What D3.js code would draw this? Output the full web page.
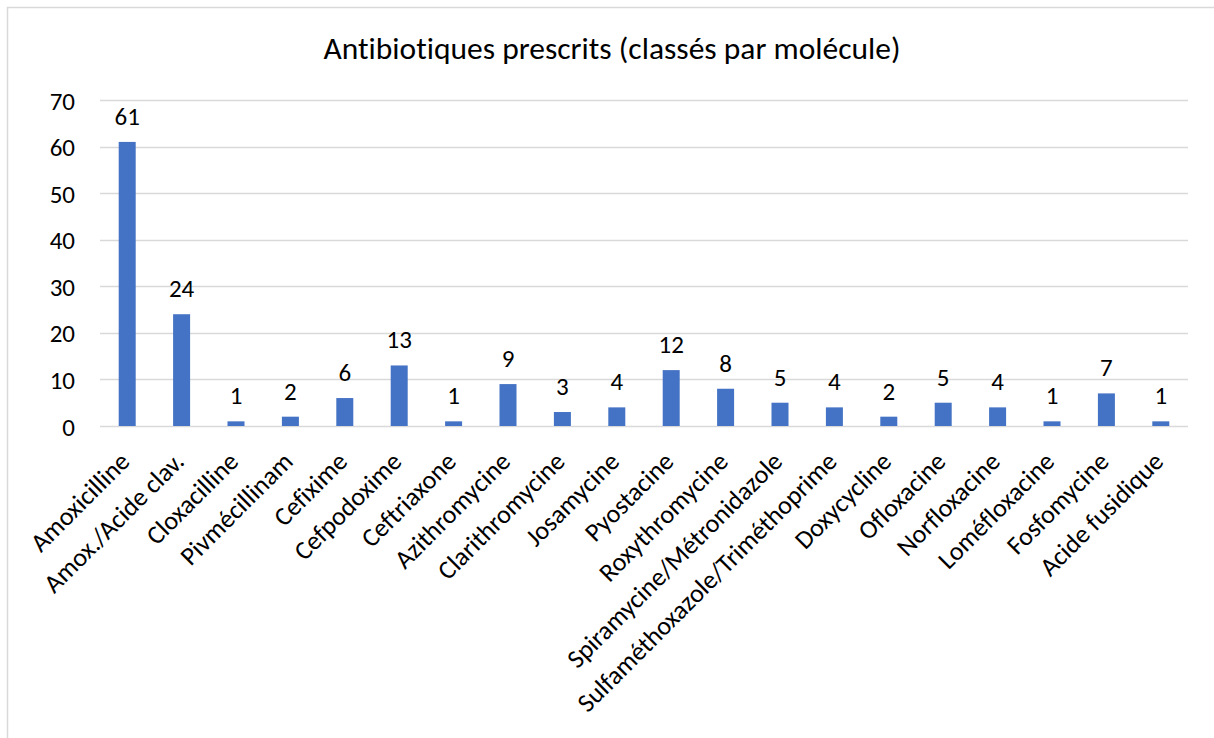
<!DOCTYPE html>
<html>
    <head>
        <title>Antibiotiques prescrits</title>
        <meta charset="UTF-8">
        <script src="https://d3js.org/d3.v7.min.js"></script>
        <style>
            body { margin: 0; background: #fff; }
            text { font-family: Calibri, Carlito, Lato, sans-serif; fill: #000; font-variant-ligatures: none; }
        </style>
    </head>
    <body>
        <script>
            var categories = ["Amoxicilline", "Amox./Acide clav.", "Cloxacilline", "Pivmécillinam", "Cefixime",
                "Cefpodoxime", "Ceftriaxone", "Azithromycine", "Clarithromycine", "Josamycine", "Pyostacine",
                "Roxythromycine", "Spiramycine/Métronidazole", "Sulfaméthoxazole/Triméthoprime", "Doxycycline",
                "Ofloxacine", "Norfloxacine", "Loméfloxacine", "Fosfomycine", "Acide fusidique"];
            var values = [61, 24, 1, 2, 6, 13, 1, 9, 3, 4, 12, 8, 5, 4, 2, 5, 4, 1, 7, 1];
            var yTicks = [0, 10, 20, 30, 40, 50, 60, 70];
            var title = "Antibiotiques prescrits (classés par molécule)";

            var w = 1214, h = 738;
            var plotLeft = 100, plotRight = 1188, plotTop = 100, plotBottom = 426;

            var svg = d3.select("body")
                    .append("svg")
                    .attr("width", w)
                    .attr("height", h);

            // chart frame (only left/top edges visible in the crop)
            svg.append("rect")
                    .attr("x", 7.5).attr("y", 7.5)
                    .attr("width", w + 20).attr("height", h + 20)
                    .attr("fill", "white")
                    .attr("stroke", "#d9d9d9")
                    .attr("stroke-width", 1.5);

            var xScale = d3.scaleBand()
                    .domain(categories)
                    .range([plotLeft, plotRight])
                    .paddingInner(0.6875)
                    .paddingOuter(0.34375);

            var yScale = d3.scaleLinear()
                    .domain([0, 70])
                    .range([plotBottom, plotTop]);

            svg.append("text")
                    .attr("x", 612)
                    .attr("y", 59)
                    .attr("text-anchor", "middle")
                    .style("font-size", "31.5px")
                    .text(title);

            // gridlines
            svg.append("g")
                    .selectAll("line")
                    .data(yTicks)
                    .enter()
                    .append("line")
                    .attr("x1", plotLeft)
                    .attr("x2", plotRight)
                    .attr("y1", function(d){ return Math.round(yScale(d)) + 0.5; })
                    .attr("y2", function(d){ return Math.round(yScale(d)) + 0.5; })
                    .attr("stroke", "#d9d9d9")
                    .attr("stroke-width", 1.5);

            var yAxis = d3.axisLeft(yScale).tickValues(yTicks).tickSize(0).tickPadding(25);
            svg.append("g")
                    .attr("transform", "translate(" + plotLeft + ",0)")
                    .call(yAxis)
                    .call(function(g){ g.select(".domain").remove(); })
                    .selectAll("text")
                    .style("font-size", "25px")
                    .style("font-family", "Calibri, Carlito, Lato, sans-serif")
                    .attr("fill", "#000")
                    .attr("dy", "0.36em");

            svg.selectAll("rect.bar")
                    .data(values)
                    .enter()
                    .append("rect")
                    .attr("class", "bar")
                    .attr("x", function(d, i){ return xScale(categories[i]); })
                    .attr("y", function(d){ return yScale(d); })
                    .attr("width", xScale.bandwidth())
                    .attr("height", function(d){ return yScale(0) - yScale(d); })
                    .attr("fill", "#4472c4");

            svg.selectAll("text.val")
                    .data(values)
                    .enter()
                    .append("text")
                    .attr("class", "val")
                    .attr("x", function(d, i){ return xScale(categories[i]) + xScale.bandwidth() / 2; })
                    .attr("y", function(d){ return yScale(d) - 17; })
                    .attr("text-anchor", "middle")
                    .style("font-size", "25px")
                    .text(function(d){ return d; });

            svg.selectAll("text.cat")
                    .data(categories)
                    .enter()
                    .append("text")
                    .attr("class", "cat")
                    .attr("text-anchor", "end")
                    .attr("transform", function(d){
                        var cx = xScale(d) + xScale.bandwidth() / 2 + 4;
                        return "translate(" + cx + ",463) rotate(-45)";
                    })
                    .style("font-size", "26px")
                    .text(function(d){ return d; });
        </script>
    </body>
</html>
